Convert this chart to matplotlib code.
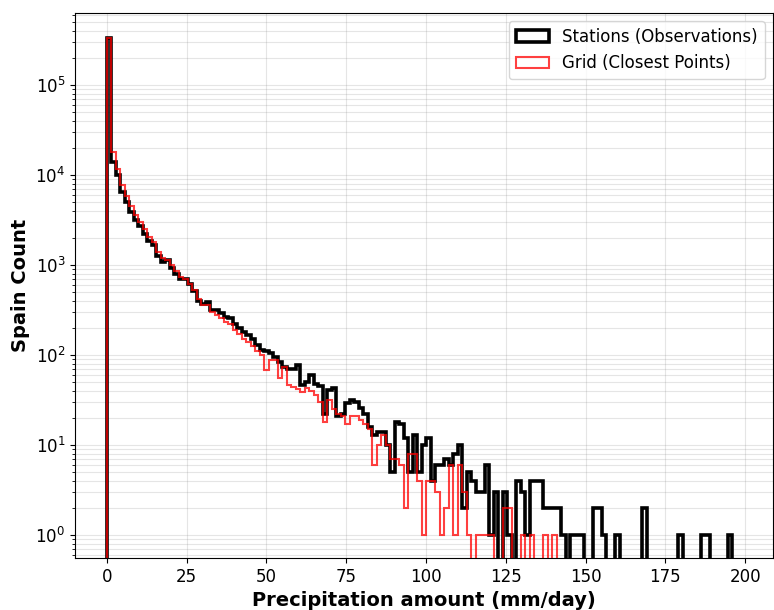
import numpy as np
import matplotlib
matplotlib.use("Agg")
import matplotlib.pyplot as plt

# bin layout (mm/day), 141 bins of ~1.41 mm
bin_width = 1.41
n_bins = 141
edges = np.linspace(0, n_bins * bin_width, n_bins + 1)

# counts per bin
stations_counts = [
    330000, 14000, 10000, 6500, 5000, 3900, 3200, 2700, 2200, 1850,
    1650, 1250, 1090, 1140, 920, 800, 690, 700, 620, 520,
    400, 365, 385, 320, 316, 290, 267, 260, 222, 200,
    178, 165, 150, 130, 115, 110, 106, 96, 84, 74,
    70, 69, 77, 46, 50, 60, 48, 45, 22, 41,
    43, 21, 22, 29, 32, 30, 26, 22, 16, 13,
    14, 14, 10, 5, 18, 17, 12, 5, 13, 5,
    10, 12, 4, 6, 6, 7, 6, 8, 10, 2,
    5, 4, 3, 3, 6, 1, 3, 0, 3, 1,
    0, 4, 3, 1, 4, 4, 4, 2, 2, 2,
    2, 1, 0, 1, 1, 1, 0, 0, 2, 2,
    1, 0, 0, 1, 0, 0, 0, 0, 0, 2,
    0, 0, 0, 0, 0, 0, 0, 1, 0, 0,
    0, 0, 1, 1, 0, 0, 0, 0, 1, 0,
    0,
]

grid_counts = [
    330000, 18000, 11500, 7800, 5800, 4500, 3600, 3000, 2500, 2050,
    1800, 1400, 1200, 1150, 1000, 850, 740, 700, 620, 530,
    420, 360, 360, 300, 280, 260, 230, 220, 190, 170,
    150, 140, 125, 110, 100, 68, 88, 88, 55, 74,
    46, 44, 42, 39, 43, 40, 36, 30, 18, 32,
    25, 22, 21, 17, 21, 21, 19, 17, 15, 6,
    10, 13, 10, 7, 7, 6, 2, 8, 8, 4,
    1, 4, 4, 3, 1, 2, 6, 1, 6, 3,
    1, 0, 1, 1, 1, 1, 0, 0, 2, 2,
    0, 0, 1, 0, 1, 0, 0, 1, 0, 1,
] + [0] * 41

fig, ax = plt.subplots(figsize=(7.74, 6.10), dpi=100)
fig.subplots_adjust(left=0.097, right=0.9987, top=0.9787, bottom=0.0852)

ax.hist(edges[:-1], bins=edges, weights=stations_counts, histtype="step",
        color="black", linewidth=2.6, log=True, label="Stations (Observations)")
ax.hist(edges[:-1], bins=edges, weights=grid_counts, histtype="step",
        color="red", alpha=0.75, linewidth=1.5, log=True, label="Grid (Closest Points)")

ax.set_xlim(-9.94, 208.75)
ax.set_ylim(0.555, 6.3e5)

ax.grid(True, which="both", color="gray", alpha=0.2, linewidth=0.8)
ax.set_axisbelow(True)

ax.set_xlabel("Precipitation amount (mm/day)", fontsize=14, fontweight="bold")
ax.set_ylabel("Spain Count", fontsize=14, fontweight="bold")
ax.tick_params(axis="both", labelsize=12)

ax.legend(loc="upper right", fontsize=12)

fig.savefig("out.png", dpi=100)
